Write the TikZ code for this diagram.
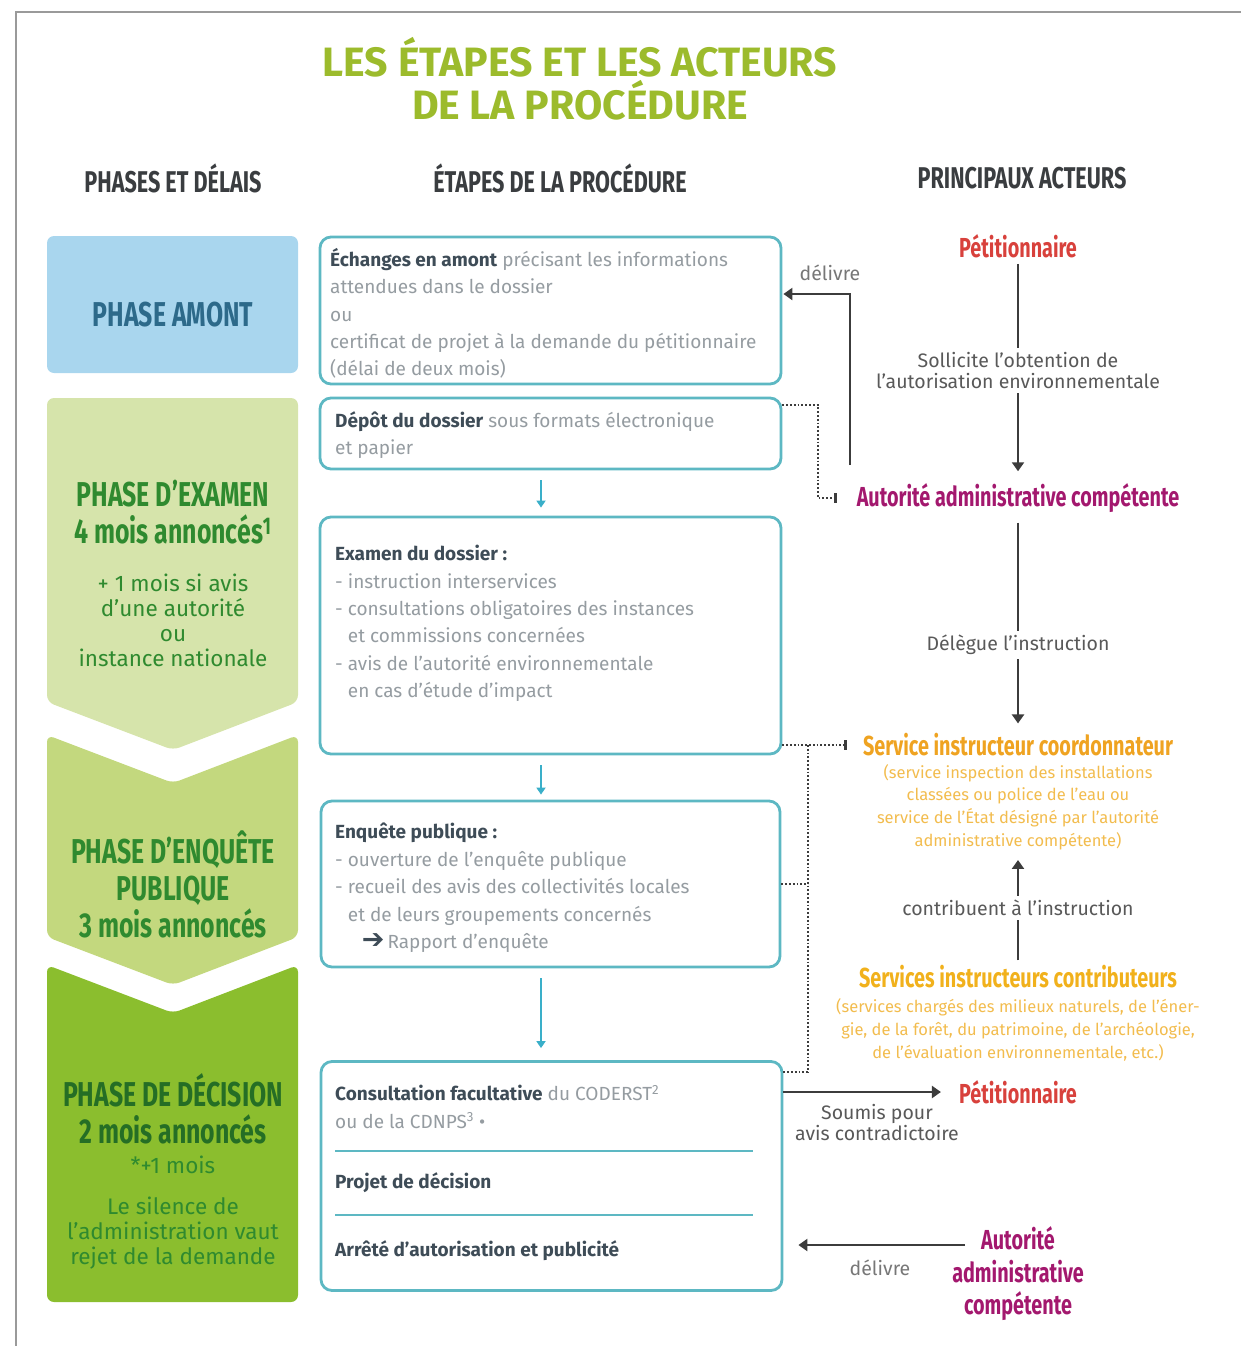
\documentclass[tikz,border=0pt]{standalone}
\usepackage{fontspec}
\setmainfont{Fira Sans}
\newfontfamily\condfont[FakeStretch=0.72]{Fira Sans}
\newfontfamily\symfont{DejaVu Sans}
\usetikzlibrary{arrows.meta,positioning}

\definecolor{titlegreen}{HTML}{9CBB2C}
\definecolor{headgrey}{HTML}{3A3D40}
\definecolor{amontblue}{HTML}{A9D6EE}
\definecolor{amonttext}{HTML}{2D6A8A}
\definecolor{examgreen}{HTML}{D6E4AB}
\definecolor{enqgreen}{HTML}{C3D87E}
\definecolor{decgreen}{HTML}{8BBE2E}
\definecolor{phasetext}{HTML}{2F8A2F}
\definecolor{boxteal}{HTML}{5DB8C3}
\definecolor{arrowteal}{HTML}{3AAFC9}
\definecolor{bodygrey}{HTML}{959CA1}
\definecolor{bolddark}{HTML}{3E4C57}
\definecolor{petired}{HTML}{D8413C}
\definecolor{autmagenta}{HTML}{A3186E}
\definecolor{servorange}{HTML}{EFA321}
\definecolor{servlight}{HTML}{F2BC4E}
\definecolor{linkgrey}{HTML}{3C3C3C}
\definecolor{framegrey}{HTML}{9A9A9A}

\begin{document}
\begin{tikzpicture}[x=1pt, y=-1pt,
  every node/.style={inner sep=0pt, font=\fontsize{19}{27.4}\selectfont},
  colhead/.style={font=\condfont\bfseries\fontsize{30}{32}\selectfont, text=headgrey},
  phasetitle/.style={font=\condfont\bfseries\fontsize{34.5}{37}\selectfont, text=phasetext, align=center},
  phasenote/.style={font=\fontsize{22.5}{25}\selectfont, text=phasetext, align=center},
  stepbox/.style={draw=boxteal, line width=2.8pt, rounded corners=11pt, fill=white, minimum width=461pt},
  steptext/.style={anchor=north west, align=left, text=bodygrey},
  actor/.style={font=\condfont\bfseries\fontsize{27.5}{32.5}\selectfont, align=center},
  smallnote/.style={font=\fontsize{16.5}{22.7}\selectfont, text=servlight, align=center},
  linklabel/.style={font=\fontsize{19.5}{21}\selectfont, text=linkgrey!85, align=center, fill=white, inner sep=4pt},
  flow/.style={-{Triangle[length=9pt,width=12pt]}, line width=2.4pt, draw=linkgrey},
  stepflow/.style={-{Triangle[length=7pt,width=9pt]}, line width=1.8pt, draw=arrowteal},
  dotlink/.style={dotted, line width=1.8pt, draw=linkgrey},
  sepline/.style={draw=boxteal, line width=2pt}
]
\useasboundingbox (0,0) rectangle (1241,1346);
\draw[framegrey, line width=2pt] (16,1346) -- (16,12) -- (1241,12);

\node[font=\bfseries\fontsize{41}{43}\selectfont, text=titlegreen, align=center] (title) at (580,79) {LES ÉTAPES ET LES ACTEURS\\DE LA PROCÉDURE};

\node[colhead] (hphase) at (173,178) {PHASES ET DÉLAIS};
\node[colhead] (hetape) at (560,178) {ÉTAPES DE LA PROCÉDURE};
\node[colhead] (hacteur) at (1022,178) {PRINCIPAUX ACTEURS};

% phases
\fill[amontblue, rounded corners=7pt] (47,236) rectangle (298,373);
\node[phasetitle, text=amonttext] (amont-ph) at (173,315) {PHASE AMONT};

\fill[examgreen, rounded corners=7pt] (47,398) -- (298,398) -- (298,702) -- (173,750) -- (47,702) -- cycle;
\node[phasetitle] (examen-ph) at (173,512) {PHASE D’EXAMEN\\4 mois annoncés\textsuperscript{1}};
\node[phasenote] (examen-note) at (173,620) {+ 1 mois si avis\\d’une autorité\\ou\\instance nationale};

\fill[enqgreen, rounded corners=7pt] (47,735) -- (173,783) -- (298,735) -- (298,937) -- (173,985) -- (47,937) -- cycle;
\node[phasetitle] (enquete-ph) at (173,884) {PHASE D’ENQUÊTE\\PUBLIQUE\\3 mois annoncés};

\fill[decgreen, rounded corners=7pt] (47,965) -- (173,1013) -- (298,965) -- (298,1302) -- (47,1302) -- cycle;
\node[phasetitle, text=phasetext!80!black] (decision-ph) at (173,1109) {PHASE DE DÉCISION\\2 mois annoncés};
\node[phasenote] (delai) at (173,1165) {*+1 mois};
\node[phasenote] (silence) at (173,1233) {Le silence de\\l’administration vaut\\rejet de la demande};

% etapes
\node[stepbox, minimum height=147pt] (amont-box) at (550.5,310.5) {};
\node[steptext] (amont-txt) at (330,248) {\textcolor{bolddark}{\bfseries Échanges en amont} précisant les informations\\attendues dans le dossier\\ou\\certificat de projet à la demande du pétitionnaire\\(délai de deux mois)};

\node[stepbox, minimum height=71pt] (depot-box) at (550.5,433.5) {};
\node[steptext] (depot-txt) at (335,411) {\textcolor{bolddark}{\bfseries Dépôt du dossier} sous formats électronique\\et papier};

\node[stepbox, minimum height=237pt] (examen-box) at (550.5,635.5) {};
\node[steptext] (examen-txt) at (335,545) {\textcolor{bolddark}{\bfseries Examen du dossier :}\\- instruction interservices\\- consultations obligatoires des instances\\\phantom{- }et commissions concernées\\- avis de l’autorité environnementale\\\phantom{- }en cas d’étude d’impact};

\node[stepbox, minimum width=459pt, minimum height=166pt] (enquete-box) at (550.5,884) {};
\node[steptext] (enquete-txt) at (335,823) {\textcolor{bolddark}{\bfseries Enquête publique :}\\- ouverture de l’enquête publique\\- recueil des avis des collectivités locales\\\phantom{- }et de leurs groupements concernés\\\hspace{1.4em}{\symfont\bfseries\fontsize{27}{20}\selectfont\color{bolddark}➔}\,Rapport d’enquête};

\node[stepbox, minimum height=229pt] (decision-box) at (551.5,1176) {};
\node[steptext] (consult-txt) at (335,1085) {\textcolor{bolddark}{\bfseries Consultation facultative} du CODERST\textsuperscript{2}\\ou de la CDNPS\textsuperscript{3} •};
\draw[sepline] (335,1151) -- (753,1151);
\node[anchor=west, text=bolddark, font=\bfseries\fontsize{19}{22}\selectfont] (projet-txt) at (335,1183) {Projet de décision};
\draw[sepline] (335,1215) -- (753,1215);
\node[anchor=west, text=bolddark, font=\bfseries\fontsize{19}{22}\selectfont] (arrete-txt) at (335,1251) {Arrêté d’autorisation et publicité};

\draw[stepflow, shorten <=10pt, shorten >=8pt] ([xshift=-9.5pt]depot-box.south) -- ([xshift=-9.5pt]examen-box.north);
\draw[stepflow, shorten <=10pt, shorten >=5pt] ([xshift=-9.5pt]examen-box.south) -- ([xshift=-9.5pt]enquete-box.north);
\draw[stepflow, shorten <=10pt, shorten >=12pt] ([xshift=-9.5pt]enquete-box.south) -- ([xshift=-10.5pt]decision-box.north);

% acteurs
\node[actor, text=petired] (petit1) at (1018,246) {Pétitionnaire};
\node[actor, text=autmagenta] (autorite1) at (1018,498) {Autorité administrative compétente};
\node[actor, text=servorange] (coord) at (1018,745) {Service instructeur coordonnateur};
\node[smallnote] (coord-note) at (1018,807) {(service inspection des installations\\classées ou police de l’eau ou\\service de l’État désigné par l’autorité\\administrative compétente)};
\node[actor, text=servorange!85!yellow] (contrib) at (1018,977) {Services instructeurs contributeurs};
\node[smallnote] (contrib-note) at (1018,1030) {(services chargés des milieux naturels, de l’éner-\\gie, de la forêt, du patrimoine, de l’archéologie,\\de l’évaluation environnementale, etc.)};
\node[actor, text=petired] (petit2) at (1018,1092) {Pétitionnaire};
\node[actor, text=autmagenta] (autorite2) at (1018,1274) {Autorité\\administrative\\compétente};

\draw[flow, shorten <=6pt, shorten >=12pt] (petit1) -- node[linklabel] (sollicite) {Sollicite l’obtention de\\l’autorisation environnementale} (autorite1);
\draw[flow, shorten <=10pt, shorten >=10pt] (autorite1) -- node[linklabel, pos=0.6] (delegue) {Délègue l’instruction} (coord);
\draw[flow, shorten <=5pt, shorten >=10pt] (contrib) -- node[linklabel] (contribuent) {contribuent à l’instruction} (coord-note);

\coordinate (delivre-pt) at (850,465);
\draw[flow, shorten >=1pt] (delivre-pt) |- ([yshift=16.5pt]amont-box.east);
\node[linklabel, text=linkgrey!70, inner sep=0pt] (delivre1) at (830,273) {délivre};

\coordinate (depot-link) at (818,405);
\draw[dotlink, -{Bar[width=10pt,line width=2.5pt]}] ([yshift=28.5pt]depot-box.east) -- (depot-link) |- ([xshift=-20pt]autorite1.west);

\coordinate (bus-top) at (808,745);
\coordinate (bus-bot) at (808,1072);
\draw[dotlink, -{Bar[width=10pt,line width=2.5pt]}] ([yshift=-109.5pt]examen-box.east) -- ([xshift=-16pt]coord.west);
\draw[dotlink] (bus-top) -- (bus-bot);
\draw[dotlink] (enquete-box.east) -- (enquete-box.east -| bus-top);
\draw[dotlink] ([yshift=104pt]decision-box.east) -- (bus-bot);

\draw[flow, shorten >=18pt] ([yshift=84pt]decision-box.east) -- (petit2.west);
\node[linklabel, inner sep=0pt] (soumis) at (877,1122) {Soumis pour\\avis contradictoire};

\coordinate (delivre-pt2) at (965,1245);
\draw[flow, shorten >=15pt] (delivre-pt2) -- (decision-box.east |- delivre-pt2);
\node[linklabel, text=linkgrey!70, inner sep=0pt] (delivre2) at (880,1268) {délivre};
\end{tikzpicture}
\end{document}
